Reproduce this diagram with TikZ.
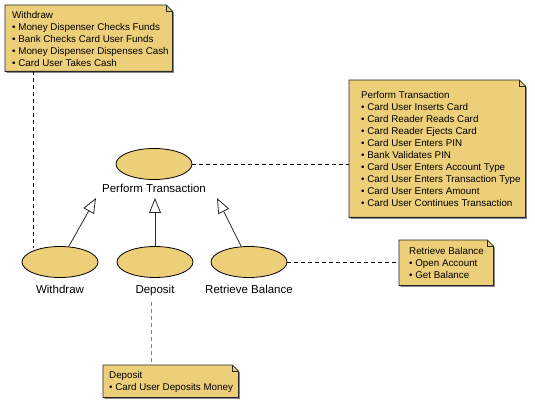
\documentclass[tikz,border=0pt]{standalone}
\usepackage{fontspec}
\setmainfont{Liberation Sans}
\usetikzlibrary{shapes.geometric,arrows.meta}
\definecolor{ucfill}{RGB}{237,207,122}
\definecolor{ucline}{RGB}{40,40,40}
\definecolor{ucshadow}{RGB}{135,135,135}
\newcommand\umlnote[1]{%
  \fill[ucshadow] ([shift={(1.5,1.5)}]#1.north west) -- ([shift={(-4.5,1.5)}]#1.north east) -- ([shift={(1.5,7.5)}]#1.north east) -- ([shift={(1.5,1.5)}]#1.south east) -- ([shift={(1.5,1.5)}]#1.south west) -- cycle;
  \filldraw[fill=ucfill, draw=ucline, line width=0.8pt] (#1.north west) -- ([shift={(-6,0)}]#1.north east) -- ([shift={(0,6)}]#1.north east) -- (#1.south east) -- (#1.south west) -- cycle;
  \draw[ucline, line width=0.6pt] ([shift={(-6,0)}]#1.north east) -- ([shift={(-6,6)}]#1.north east) -- ([shift={(0,6)}]#1.north east);
}
\begin{document}
\begin{tikzpicture}[x=1pt,y=-1pt,
  usecase/.style={ellipse, draw=black, fill=ucfill, line width=0.8pt, minimum width=76pt, minimum height=31pt, inner sep=0pt},
  uclabel/.style={font=\fontsize{11.5}{13.5}\selectfont, inner sep=0pt, anchor=base},
  notebox/.style={inner sep=0pt, anchor=north west},
  notetext/.style={font=\fontsize{9.8}{12}\selectfont, align=left, anchor=west, inner sep=0pt},
  gen/.style={line width=0.8pt, draw=ucline, arrows={-Triangle[open, length=15pt 0 0, width=12pt 0 0]}},
  link/.style={dash pattern=on 4pt off 3pt, line width=0.7pt, draw=black},
]
\useasboundingbox (0,0) rectangle (535,403);

% notes
\node[notebox, minimum width=167pt, minimum height=66pt] (wnb) at (5,5) {};
\umlnote{wnb}
\node[notetext] (wn) at ([shift={(7,1)}]wnb.west) {Withdraw\\• Money Dispenser Checks Funds\\• Bank Checks Card User Funds\\• Money Dispenser Dispenses Cash\\• Card User Takes Cash};

\node[notebox, minimum width=176pt, minimum height=137pt] (pnb) at (349,80) {};
\umlnote{pnb}
\node[notetext] (pn) at ([shift={(12,0.5)}]pnb.west) {Perform Transaction\\• Card User Inserts Card\\• Card Reader Reads Card\\• Card Reader Ejects Card\\• Card User Enters PIN\\• Bank Validates PIN\\• Card User Enters Account Type\\• Card User Enters Transaction Type\\• Card User Enters Amount\\• Card User Continues Transaction};

\node[notebox, minimum width=94pt, minimum height=45pt] (rnb) at (399,240) {};
\umlnote{rnb}
\node[notetext] (rn) at ([shift={(10,0.5)}]rnb.west) {Retrieve Balance\\• Open Account\\• Get Balance};

\node[notebox, minimum width=135pt, minimum height=32pt] (dnb) at (103,365) {};
\umlnote{dnb}
\node[notetext] (dn) at ([shift={(6,0.5)}]dnb.west) {Deposit\\• Card User Deposits Money};

% use cases
\node[usecase] (pt) at (154,164) {};
\node[uclabel] (ptl) at (154,193) {Perform Transaction};
\node[usecase] (wd) at (60,262) {};
\node[uclabel] (wdl) at (60,293) {Withdraw};
\node[usecase] (dp) at (155,262) {};
\node[uclabel] (dpl) at (155,293) {Deposit};
\node[usecase] (rb) at (249,262) {};
\node[uclabel] (rbl) at (249,293) {Retrieve Balance};

% generalizations
\coordinate (gw) at (96,198);
\coordinate (gd) at (155,198);
\coordinate (gr) at (217,198);
\draw[gen] (wd) -- (gw);
\draw[gen] (dp) -- (gd);
\draw[gen] (rb) -- (gr);

% note links
\coordinate (wa) at (33,248);
\draw[link] (wnb.south -| wa) -- (wa);
\draw[link] (pt.east) -- (pt.east -| pnb.west);
\draw[link] (rb.east) -- (rb.east -| rnb.west);
\coordinate (da) at (151,302);
\draw[link, draw=gray] (da) -- (da |- dnb.north);
\end{tikzpicture}
\end{document}
